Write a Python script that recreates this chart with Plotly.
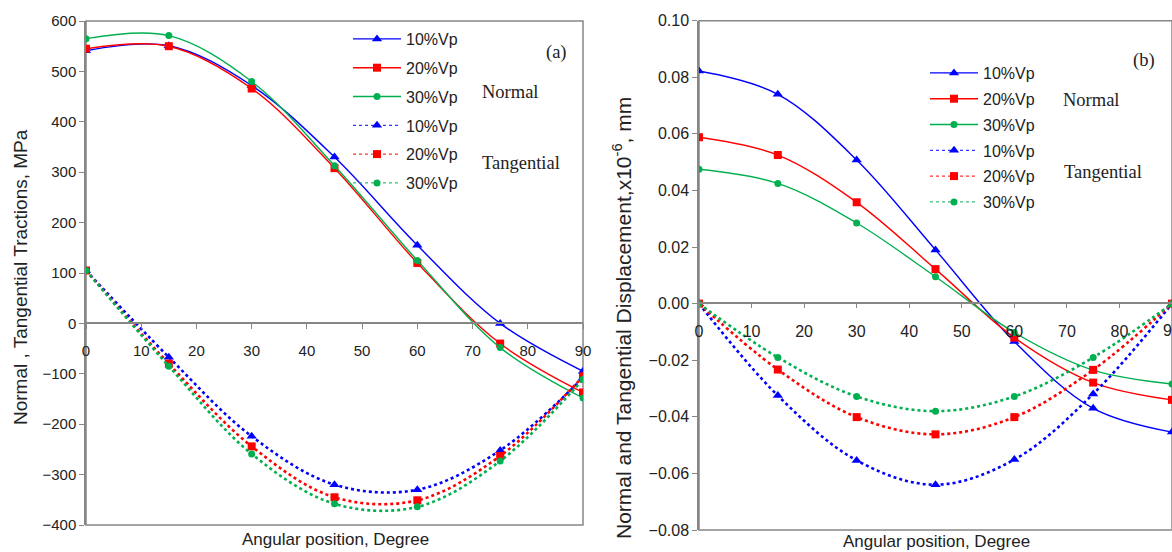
import plotly.graph_objects as go

W, H = 1172, 552

angle = [0, 15, 30, 45, 60, 75, 90]
series_names = ["10%Vp", "20%Vp", "30%Vp"]

# (a) tractions, MPa
trac_normal_10 = [541, 551, 472, 330, 155, 0, -95]
trac_normal_20 = [545, 550, 466, 308, 120, -40, -137]
trac_normal_30 = [565, 571, 480, 313, 125, -48, -148]
trac_tang_10 = [105, -67, -224, -320, -330, -252, -108]
trac_tang_20 = [105, -80, -244, -345, -351, -263, -105]
trac_tang_30 = [105, -85, -259, -358, -364, -273, -111]

# (b) displacements, x10^-6 mm
disp_normal_10 = [0.0822, 0.0740, 0.0508, 0.0190, -0.0134, -0.0370, -0.0454]
disp_normal_20 = [0.0588, 0.0525, 0.0358, 0.0122, -0.0120, -0.0279, -0.0340]
disp_normal_30 = [0.0475, 0.0425, 0.0285, 0.0095, -0.0102, -0.0235, -0.0284]
disp_tang_10 = [0.0, -0.0325, -0.0554, -0.0640, -0.0551, -0.0319, 0.0]
disp_tang_20 = [0.0, -0.0233, -0.0401, -0.0462, -0.0401, -0.0234, 0.0]
disp_tang_30 = [0.0, -0.0190, -0.0328, -0.0380, -0.0328, -0.0190, 0.0]

colors = ["#0000FF", "#FF0000", "#00B050"]
symbols = ["triangle-up", "square", "circle"]
msizes = [9, 8, 7]

FONT = "Liberation Sans, Arial, sans-serif"
SERIF = "Liberation Serif, Times New Roman, serif"
AXC = "#868686"
TXT = "#222222"

fig = go.Figure()

def add_set(xa, ya, legend, normals, tangs):
    for i, vals in enumerate(normals):
        fig.add_trace(go.Scatter(
            x=angle, y=vals, name=series_names[i], mode="lines+markers",
            line=dict(color=colors[i], width=1.4, shape="spline", smoothing=1.0),
            marker=dict(symbol=symbols[i], size=msizes[i], color=colors[i]),
            xaxis=xa, yaxis=ya, legend=legend, legendgroup=f"{legend}n{i}"))
    for i, vals in enumerate(tangs):
        fig.add_trace(go.Scatter(
            x=angle, y=vals, name=series_names[i], mode="lines+markers",
            line=dict(color=colors[i], width=2.6, dash="dot", shape="spline", smoothing=1.0),
            marker=dict(symbol=symbols[i], size=msizes[i], color=colors[i]),
            xaxis=xa, yaxis=ya, showlegend=False))
    # legend entries for the dotted series use a thin dotted line, as in the reference
    for i in range(3):
        fig.add_trace(go.Scatter(
            x=[None], y=[None], name=series_names[i], mode="lines+markers",
            line=dict(color=colors[i], width=1, dash="dot"),
            marker=dict(symbol=symbols[i], size=msizes[i], color=colors[i]),
            xaxis=xa, yaxis=ya, legend=legend, legendgroup=f"{legend}t{i}"))

add_set("x", "y", "legend",
        [trac_normal_10, trac_normal_20, trac_normal_30],
        [trac_tang_10, trac_tang_20, trac_tang_30])
add_set("x2", "y2", "legend2",
        [disp_normal_10, disp_normal_20, disp_normal_30],
        [disp_tang_10, disp_tang_20, disp_tang_30])

def fy(py):
    return 1 - py / H

def fx(px):
    return px / W

tickfont_a = dict(family=FONT, size=15, color=TXT)
tickfont_b = dict(family=FONT, size=16, color=TXT)

common_x = dict(range=[0, 90], dtick=10, tick0=0, showline=True, linecolor=AXC,
                linewidth=1.5, ticks="outside", ticklen=5, tickcolor=AXC,
                showgrid=False, zeroline=False,
                ticklabelstandoff=9, anchor="free", automargin=False)
common_y = dict(showline=True, linecolor=AXC, linewidth=1.5, ticks="outside",
                ticklen=5, tickcolor=AXC, showgrid=False, zeroline=False,
                automargin=False)

fig.update_layout(
    width=W, height=H,
    margin=dict(l=0, r=0, t=0, b=0, autoexpand=False),
    paper_bgcolor="white", plot_bgcolor="white",
    font=dict(family=FONT, size=15, color=TXT),
    xaxis=dict(domain=[fx(86), fx(583)], position=fy(323), tickfont=tickfont_a, **common_x),
    yaxis=dict(domain=[fy(525), fy(21)], range=[-400, 600], dtick=100,
               anchor="x", tickfont=tickfont_a, **common_y),
    xaxis2=dict(domain=[fx(699), 1.0], position=fy(302.7), tickfont=tickfont_b, **common_x),
    yaxis2=dict(domain=[fy(530), fy(20.7)], range=[-0.08, 0.10], dtick=0.02,
                tickformat=".2f", anchor="x2", tickfont=tickfont_b, **common_y),
    legend=dict(x=fx(348), y=fy(22), xanchor="left", yanchor="top",
                bgcolor="rgba(0,0,0,0)", font=dict(family=FONT, size=16, color=TXT),
                traceorder="grouped", tracegroupgap=5, itemwidth=48),
    legend2=dict(x=fx(925), y=fy(56), xanchor="left", yanchor="top",
                 bgcolor="rgba(0,0,0,0)", font=dict(family=FONT, size=16, color=TXT),
                 traceorder="grouped", tracegroupgap=2, itemwidth=48),
)

# plot-area frames
for xr, yr in [("x domain", "y domain"), ("x2 domain", "y2 domain")]:
    fig.add_shape(type="rect", xref=xr, yref=yr, x0=0, x1=1, y0=0, y1=1,
                  line=dict(color=AXC, width=1.5), layer="below")

def ann(text, px, py, size=15, family=FONT, angle=0, xanchor="center"):
    fig.add_annotation(text=text, x=fx(px), y=fy(py), xref="paper", yref="paper",
                       showarrow=False, textangle=angle, xanchor=xanchor, yanchor="middle",
                       font=dict(family=family, size=size, color=TXT))

ann("Angular position, Degree", 335, 539, size=17)
ann("Angular position, Degree", 936, 541, size=17)
ann("Normal , Tangential Tractions, MPa", 20, 277, size=19, angle=-90)
ann("Normal and Tangential Displacement,x10<sup>-6</sup>, mm", 622, 318, size=21, angle=-90)

ann("Normal", 480, 92, size=18.5, family=SERIF, xanchor="left")
ann("Tangential", 480, 163, size=18.5, family=SERIF, xanchor="left")
ann("(a)", 544, 53, size=18.5, family=SERIF, xanchor="left")
ann("Normal", 1061, 100, size=18.5, family=SERIF, xanchor="left")
ann("Tangential", 1062, 172, size=18.5, family=SERIF, xanchor="left")
ann("(b)", 1131, 60, size=18.5, family=SERIF, xanchor="left")

# last x tick label of panel (b) sits on the page edge (partly cut, as in the reference)
fig.add_annotation(text="90", x=90, y=0, xref="x2", yref="y2", showarrow=False,
                   yshift=-27, xanchor="center", yanchor="middle", font=tickfont_b)

fig.write_html(
    "out.html",
    config={"displayModeBar": False},
    post_script="document.body.style.margin='0';document.body.style.overflow='hidden';",
)
